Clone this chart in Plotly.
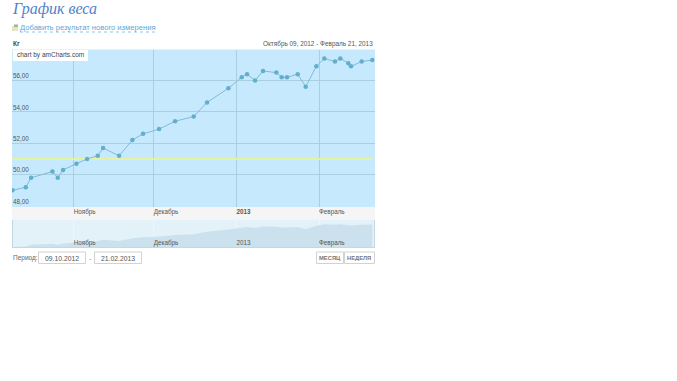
import plotly.graph_objects as go

dates = ["2012-10-09","2012-10-14","2012-10-16","2012-10-24","2012-10-26","2012-10-28","2012-11-02","2012-11-06","2012-11-10","2012-11-12","2012-11-18","2012-11-23","2012-11-27","2012-12-03","2012-12-09","2012-12-16","2012-12-21","2012-12-29","2013-01-03","2013-01-05","2013-01-08","2013-01-11","2013-01-16","2013-01-18","2013-01-20","2013-01-24","2013-01-27","2013-01-31","2013-02-03","2013-02-07","2013-02-09","2013-02-12","2013-02-13","2013-02-17","2013-02-21"]
weights = [49.0,49.2,49.8,50.2,49.8,50.3,50.7,51.0,51.2,51.7,51.2,52.2,52.6,52.9,53.4,53.7,54.6,55.5,56.2,56.4,56.0,56.6,56.5,56.2,56.2,56.4,55.6,56.9,57.4,57.2,57.4,57.1,56.9,57.2,57.3]
goal_weight = [51.0, 51.0]
goal_dates = ["2012-10-09", "2013-02-21"]
y_ticks = [48, 50, 52, 54, 56]
y_labels = ["48,00", "50,00", "52,00", "54,00", "56,00"]
month_ticks = ["2012-11-01", "2012-12-01", "2013-01-01", "2013-02-01"]
month_labels = ["Ноябрь", "Декабрь", "<b>2013</b>", "Февраль"]
month_labels_nav = ["Ноябрь", "Декабрь", "2013", "Февраль"]

W, H = 677, 381
X0, X1 = 12, 375
def px(x): return x / W
def py(y): return 1 - y / H

font = "Liberation Sans"
fig = go.Figure()
fig.add_trace(go.Scatter(x=goal_dates, y=goal_weight, mode="lines", line=dict(color="#e6f2a0", width=2), xaxis="x", yaxis="y", hoverinfo="skip"))
fig.add_trace(go.Scatter(x=dates, y=weights, mode="lines+markers", line=dict(color="#7fbbd6", width=1), marker=dict(color="#63aecb", size=4.5), xaxis="x", yaxis="y"))
fig.add_trace(go.Scatter(x=dates, y=weights, mode="lines", line=dict(width=0), fill="tozeroy", fillcolor="#cbe2ee", xaxis="x2", yaxis="y2", hoverinfo="skip"))

x_range = ["2012-10-08 20:00", "2013-02-22 00:00"]
fig.update_layout(
    width=W, height=H, autosize=False, margin=dict(l=0, r=0, t=0, b=0),
    paper_bgcolor="white", plot_bgcolor="white", showlegend=False,
    font=dict(family=font, size=6.3, color="#555"),
    xaxis=dict(domain=[px(X0), px(X1)], range=x_range, type="date", anchor="y",
               tickvals=month_ticks, ticktext=month_labels, ticklabelposition="outside right",
               showgrid=True, gridcolor="#a9cfe0", gridwidth=1, ticks="", zeroline=False,
               tickfont=dict(size=6.3, color="#555", family=font), showline=False),
    yaxis=dict(domain=[py(207), py(49.5)], range=[47.94, 57.97], anchor="x",
               tickvals=y_ticks, ticktext=y_labels, ticklabelposition="inside top",
               showgrid=True, gridcolor="#a9cfe0", gridwidth=1, zeroline=False, ticks="",
               ticklabelstandoff=-2,
               tickfont=dict(size=6.3, color="#555", family=font)),
    xaxis2=dict(domain=[px(X0), px(X1)], range=x_range, type="date", anchor="y2",
                tickvals=month_ticks, ticktext=month_labels_nav, ticklabelposition="inside right",
                ticklabelstandoff=-5,
                showgrid=True, gridcolor="#eef6fb", gridwidth=1, ticks="", zeroline=False,
                tickfont=dict(size=6.3, color="#555", family=font), layer="above traces"),
    yaxis2=dict(domain=[py(247.5), py(220)], range=[48.8, 59], anchor="x2", visible=False, showgrid=False),
)
fig.layout.xaxis.update(layer="below traces")

shapes = []
def rect(x0, y0, x1, y1, fill, line=None, layer="below", lw=1):
    shapes.append(dict(type="rect", xref="paper", yref="paper", x0=px(x0), x1=px(x1), y0=py(y0), y1=py(y1),
                       fillcolor=fill, line=dict(color=line or fill, width=lw if line else 0), layer=layer))
rect(X0, 49.5, X1, 207, "#c7e9fe")
rect(X0, 207, X1, 220, "#f5f5f5")
rect(X0, 220, X1, 247.5, "#e3f1f9")
rect(13, 50, 88, 61, "white", layer="above")
rect(38.5, 252, 85.5, 263.5, "white", "#d2d2d2", "above")
rect(94.5, 252, 141.5, 263.5, "white", "#d2d2d2", "above")
rect(316.5, 252, 343.5, 263.5, "white", "#d2d2d2", "above")
rect(344.5, 252, 374.5, 263.5, "white", "#d2d2d2", "above")
rect(12, 26, 18, 31, "#e8e4c0", layer="above")
rect(14, 24.5, 18, 27, "#8fc08a", layer="above")
shapes.append(dict(type="line", xref="paper", yref="paper", x0=px(20), x1=px(156), y0=py(32), y1=py(32), line=dict(color="#8fc6e6", width=1, dash="dot")))
for ex in (X0 + 0.5, X1 - 0.5):
    shapes.append(dict(type="line", xref="paper", yref="paper", x0=px(ex), x1=px(ex), y0=py(220), y1=py(247.5), line=dict(color="#c4d8e4", width=1)))
shapes.append(dict(type="line", xref="paper", yref="paper", x0=px(X0), x1=px(X1), y0=py(247.5), y1=py(247.5), line=dict(color="#c4d8e4", width=1)))
fig.update_layout(shapes=shapes)

def text(x, y, s, size=6.3, color="#555", anchor="left", family=font):
    fig.add_annotation(xref="paper", yref="paper", x=px(x), y=py(y), text=s, showarrow=False, xanchor=anchor,
                       yanchor="middle", font=dict(size=size, color=color, family=family), borderpad=0, borderwidth=0)

text(12, 8.5, "<i>График веса</i>", size=16, color="#4f82c9", family="Liberation Serif")
text(20, 27.5, "Добавить результат нового измерения", size=7.6, color="#58a9d8")
text(13, 43.5, "<b>Кг</b>", size=6.5, color="#444")
text(373, 43.5, "Октябрь 09, 2012 - Февраль 21, 2013", size=6.4, color="#555", anchor="right")
text(17, 55.5, "chart by amCharts.com", size=6.5, color="#444")
text(13, 258, "Период:", size=6.5, color="#666")
text(62, 258, "09.10.2012", size=6.8, color="#555", anchor="center")
text(118, 258, "21.02.2013", size=6.8, color="#555", anchor="center")
text(90, 258, "-", size=7, color="#888", anchor="center")
text(330, 258, "<b>МЕСЯЦ</b>", size=5.8, color="#777", anchor="center")
text(359.5, 258, "<b>НЕДЕЛЯ</b>", size=5.8, color="#777", anchor="center")

fig.write_html("out.html", config={"displayModeBar": False}, post_script="document.body.style.margin='0';")
